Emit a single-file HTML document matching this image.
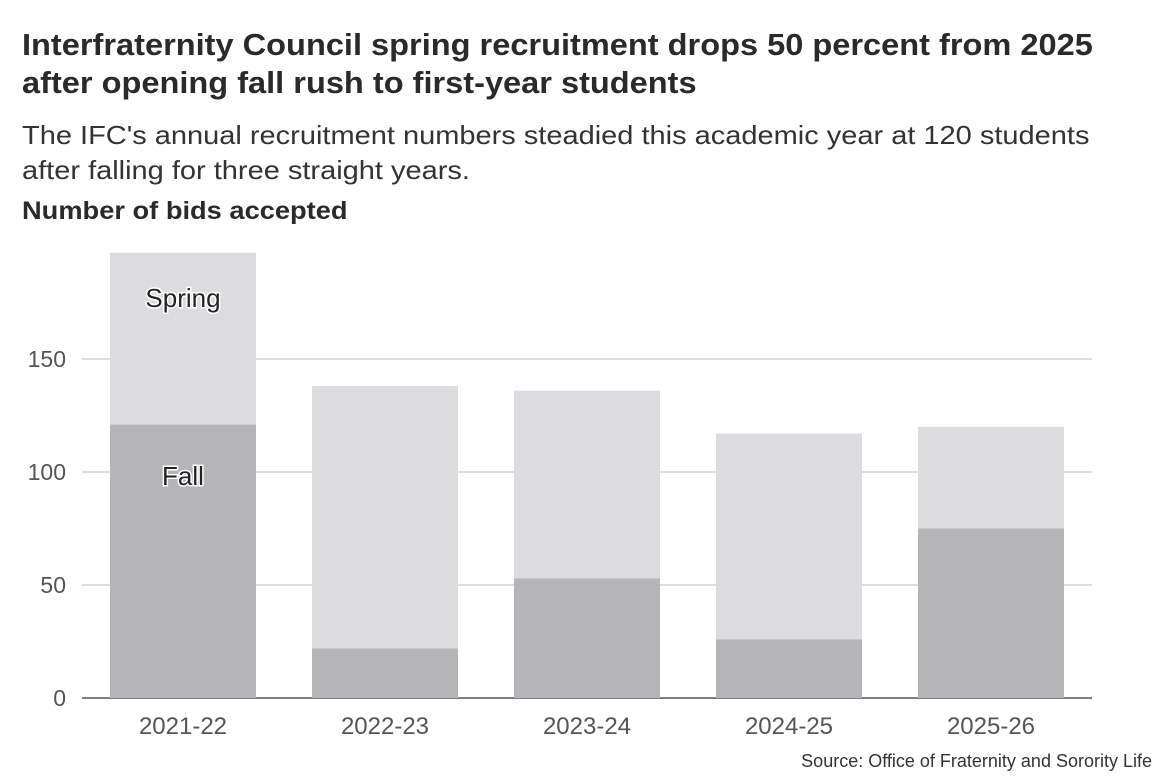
<!DOCTYPE html>
<html><head><meta charset="utf-8"><style>
body{margin:0;background:#fff;width:1170px;height:780px;overflow:hidden;font-family:"Liberation Sans",sans-serif;color:#222}
.t{position:absolute;left:22px;white-space:nowrap;transform-origin:0 0}
</style></head><body>
<div class="t" style="top:26px;font-size:31px;font-weight:bold;line-height:38px;color:#2a2a2a;transform:scaleX(1.05)">Interfraternity Council spring recruitment drops 50 percent from 2025<br>after opening fall rush to first-year students</div>
<div class="t" style="top:118px;font-size:26px;line-height:35px;color:#333;transform:scaleX(1.115)">The IFC's annual recruitment numbers steadied this academic year at 120 students<br>after falling for three straight years.</div>
<div class="t" style="top:197px;font-size:25px;font-weight:bold;color:#2a2a2a;transform:scaleX(1.09)">Number of bids accepted</div>
<svg id="c" width="1170" height="780" style="position:absolute;left:0;top:0"></svg>
<script>
const categories=["2021-22","2022-23","2023-24","2024-25","2025-26"];
const fall=[121,22,53,26,75];
const spring=[76,116,83,91,45];
const yTicks=[0,50,100,150];
const svg=document.getElementById('c');const NS="http://www.w3.org/2000/svg";
function y(v){return 698-v*2.26;}
function x(i){return 110+i*202;}
const bw=146;
function mk(t,a,txt){const e=document.createElementNS(NS,t);for(const k in a)e.setAttribute(k,a[k]);if(txt!=null)e.textContent=txt;svg.appendChild(e);return e;}
yTicks.forEach(v=>{
 const l=mk('line',{x1:82,x2:1092,y1:y(v),y2:y(v),stroke:v?'#bbb':'#555','stroke-width':v?1:1.5});
 
 
 const t=mk('text',{x:66,y:y(v)+8,'text-anchor':'end','font-size':23,fill:'#555','font-family':'Liberation Sans, sans-serif'},String(v));
 
 
});
categories.forEach((c,i)=>{
 const f=mk('rect',{x:x(i),y:y(fall[i]),width:bw,height:y(0)-y(fall[i]),fill:'#b5b5b8'});
 
 
 const s=mk('rect',{x:x(i),y:y(fall[i]+spring[i]),width:bw,height:y(fall[i])-y(fall[i]+spring[i]),fill:'#dcdcde'});
 
 
 const t=mk('text',{x:x(i)+bw/2,y:734,'text-anchor':'middle','font-size':24,fill:'#555','font-family':'Liberation Sans, sans-serif'},c);
 
 
});
const ls=mk('text',{x:x(0)+bw/2,y:307,'text-anchor':'middle','font-size':26,fill:'#222',stroke:'#fff','stroke-width':3,'paint-order':'stroke','font-family':'Liberation Sans, sans-serif'},'Spring');


const lf=mk('text',{x:x(0)+bw/2,y:485,'text-anchor':'middle','font-size':26,fill:'#222',stroke:'#fff','stroke-width':3,'paint-order':'stroke','font-family':'Liberation Sans, sans-serif'},'Fall');


const src=mk('text',{x:1152,y:767,'text-anchor':'end','font-size':18,fill:'#333','font-family':'Liberation Sans, sans-serif'},'Source: Office of Fraternity and Sorority Life');


</script>
</body></html>
